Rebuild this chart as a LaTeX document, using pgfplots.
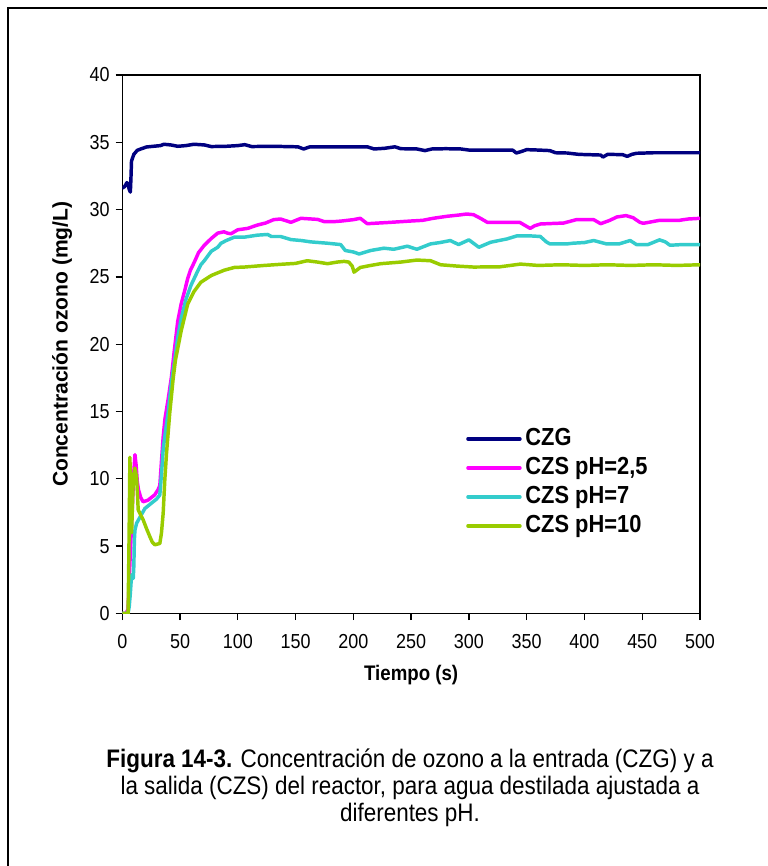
\documentclass[border=0pt]{standalone}
\usepackage{fontspec}
\setmainfont{Liberation Sans}[FakeStretch=0.886]
\newfontfamily\vertfont{Liberation Sans}
\usepackage{pgfplots}
\pgfplotsset{compat=1.18}
\definecolor{czg}{HTML}{000080}
\definecolor{phA}{HTML}{FF00FF}
\definecolor{phB}{HTML}{33CCCC}
\definecolor{phC}{HTML}{99CC00}
\begin{document}
\begin{tikzpicture}
\useasboundingbox (0,0) rectangle (575.25pt,649.5pt);
\fill[white] (0,0) rectangle (575.25pt,649.5pt);
\draw[line width=1.1pt] (6pt,0pt) -- (6pt,643.5pt) -- (575.25pt,643.5pt);
\begin{axis}[
  at={(91.7pt,189.4pt)}, anchor=south west,
  scale only axis, width=433.3pt, height=403.9pt,
  xmin=0, xmax=500, ymin=0, ymax=40,
  xtick={0,50,...,500}, ytick={0,5,...,40},
  tick pos=left, tick align=outside,
  major tick length=5pt,
  every tick/.style={black, line width=1pt},
  axis line style={line width=1.1pt},
  /pgf/number format/assume math mode=true,
  ticklabel style={font=\fontsize{15.2}{18}\selectfont},
  xticklabel style={yshift=-7pt},
  yticklabel style={xshift=-1pt},
  xlabel={\textbf{Tiempo (s)}},
  ylabel={\vertfont\bfseries Concentración ozono (mg/L)},
  label style={font=\fontsize{15.8}{18}\selectfont},
  xlabel style={at={(axis description cs:0.5,-0.114)}, anchor=center},
  ylabel style={at={(axis description cs:-0.104,0.5)}, anchor=center},
  legend style={draw=none, fill=none, at={(axis description cs:0.588,0.353)}, anchor=north west,
    font=\fontsize{18.5}{20}\selectfont\bfseries, row sep=2.75pt,
    nodes={inner ysep=2pt, inner xsep=2.8pt, text height=12.5pt, text depth=2.5pt}},
  legend cell align=left,
  legend image code/.code={\draw[#1, line width=2.6pt] (0pt,0pt) -- (39pt,0pt);},
  every axis plot/.append style={line width=2.6pt, line join=round, line cap=round},
]
\addplot[czg] coordinates {
(0,31.6)(2,31.7)(4,32.0)(5,31.9)(6,31.5)(7,31.3)(7.5,32.3)(8,33.6)(10,34.1)(13,34.4)(16,34.5)(21,34.65)(27,34.7)(33,34.75)(36,34.85)(42,34.8)(48,34.7)(55,34.75)(62,34.85)(71,34.8)(77,34.68)(90,34.7)(100,34.75)(106,34.82)(112,34.68)(130,34.7)(152,34.66)(157,34.5)(162,34.65)(180,34.66)(200,34.66)(212,34.66)(218,34.5)(227,34.55)(236,34.66)(241,34.52)(255,34.5)(262,34.38)(268,34.5)(280,34.52)(293,34.5)(300,34.42)(320,34.41)(338,34.41)(341,34.2)(345,34.3)(350,34.45)(360,34.42)(370,34.38)(375,34.22)(385,34.2)(395,34.1)(414,34.05)(416,33.9)(420,34.1)(433,34.08)(437,33.95)(441,34.1)(445,34.18)(460,34.22)(480,34.22)(500,34.22)
};
\addlegendentry{CZG}
\addplot[phA] coordinates {
(0,0)(3,0)(5,0.3)(6,2.5)(7,4.5)(8,6.5)(9,8.5)(10,10.5)(11,11.8)(12,11.0)(13,9.8)(14,9.2)(16,8.6)(18,8.3)(22,8.4)(25,8.6)(28,8.8)(31,9.2)(32.5,9.5)(34,11.4)(35.4,13.1)(37,14.5)(39.7,15.9)(42.6,17.6)(45,19.5)(48,21.7)(51,23.0)(53.8,23.9)(56.7,24.9)(59,25.5)(62.4,26.1)(66,26.8)(71,27.35)(77,27.85)(82.6,28.25)(88,28.35)(91,28.25)(94,28.2)(100,28.5)(108.5,28.6)(117,28.85)(124,29.0)(131,29.25)(137,29.3)(146,29.05)(154.6,29.35)(169,29.27)(175,29.1)(183,29.1)(190,29.15)(200,29.25)(206,29.35)(212,28.95)(222,29.0)(232,29.05)(241,29.1)(250,29.15)(260,29.2)(269,29.35)(281,29.5)(292,29.6)(298,29.67)(304,29.62)(310,29.35)(316,29.05)(327,29.05)(344,29.05)(349,28.8)(353,28.6)(357,28.8)(362,28.93)(382,29.0)(393,29.25)(408,29.25)(414,28.95)(422,29.2)(428,29.45)(436,29.55)(442,29.4)(448,29.05)(451,28.98)(465,29.2)(482,29.2)(490,29.3)(500,29.35)
};
\addlegendentry{CZS pH=2,5}
\addplot[phB] coordinates {
(0,0)(5,0)(6,0.5)(7,1.5)(8,2.8)(9,2.9)(9.5,2.6)(10,3.5)(10.5,5.5)(11,6.2)(12.4,6.7)(15,7.1)(19.6,7.8)(23.9,8.1)(29.7,8.5)(32.5,8.8)(34,10.4)(35.4,12.2)(37.5,13.6)(39.7,14.9)(42.6,17.2)(45.2,18.7)(48,20.5)(51,21.9)(55,23.3)(59.6,24.4)(64,25.2)(68,25.9)(71,26.2)(77,26.9)(82.6,27.2)(85.5,27.5)(90,27.7)(97,27.95)(105.6,27.95)(117,28.1)(125.8,28.15)(129,28.0)(137,28.0)(146,27.77)(155,27.7)(163,27.6)(177.6,27.5)(189,27.4)(193,26.96)(200,26.85)(205,26.7)(215,26.96)(226.5,27.13)(235,27.05)(246.7,27.28)(255,27.05)(266.8,27.45)(275,27.55)(284,27.7)(291,27.4)(300,27.75)(308.6,27.2)(318.7,27.57)(326,27.7)(333,27.82)(341.7,28.05)(352,28.05)(361.8,28.0)(367,27.6)(370,27.45)(385,27.45)(390,27.5)(400,27.55)(408,27.7)(419,27.45)(430,27.45)(439.6,27.7)(445,27.4)(455,27.4)(465,27.75)(470,27.6)(474,27.35)(485,27.4)(497,27.4)(500,27.4)
};
\addlegendentry{CZS pH=7}
\addplot[phC] coordinates {
(0,0)(5,0)(5.5,3.0)(6,6.5)(6.6,11.6)(7.2,9.5)(8.1,6.0)(9.5,9.9)(10.9,10.8)(12.4,10.1)(13.8,7.7)(16,7.3)(18.1,6.95)(21,6.3)(23.9,5.7)(26,5.3)(28.2,5.1)(32.5,5.2)(33.9,5.96)(35.4,7.45)(36.8,9.9)(38.3,11.9)(41.1,14.9)(44,17.4)(46,18.8)(51,21.0)(56.7,23.0)(62,23.9)(68,24.6)(77,25.1)(82.6,25.3)(88.4,25.5)(97,25.7)(105.6,25.73)(123,25.85)(140,25.95)(150,26.0)(160,26.2)(169,26.1)(177.6,25.98)(186,26.1)(192,26.15)(196,26.1)(199,25.8)(200.6,25.35)(206,25.7)(215,25.85)(223.7,25.98)(241,26.1)(255,26.25)(266.8,26.2)(275.5,25.9)(290,25.8)(304,25.73)(327,25.75)(344.6,25.95)(360,25.85)(380,25.9)(400,25.85)(420,25.9)(440,25.85)(460,25.9)(480,25.85)(500,25.9)
};
\addlegendentry{CZS pH=10}
\end{axis}
\node[align=center, font=\fontsize{19}{20.25}\selectfont] at (307.5pt,58.5pt)
  {\textbf{Figura 14-3.} Concentración de ozono a la entrada (CZG) y a\\
   la salida (CZS) del reactor, para agua destilada ajustada a\\
   diferentes pH.};
\end{tikzpicture}
\end{document}
